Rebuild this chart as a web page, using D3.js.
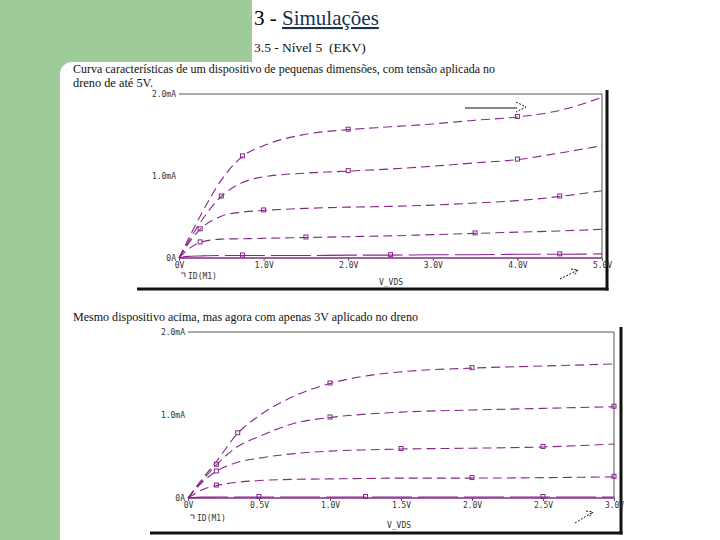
<!DOCTYPE html>
<html><head><meta charset="utf-8">
<script src="https://cdn.jsdelivr.net/npm/d3@7"></script>
<style>body{margin:0;background:#fff}svg{display:block}</style>
</head><body>
<script>
// ---------- data ----------
const titleMain = "3 - ";
const titleLink = "Simulações";
const subTitle = "3.5 - Nível 5  (EKV)";
const caption1a = "Curva características de um dispositivo de pequenas dimensões, com tensão aplicada no";
const caption1b = "dreno de até 5V.";
const caption2 = "Mesmo dispositivo acima, mas agora com apenas 3V aplicado no dreno";

// Chart A (VDS up to 5 V)
const vdsA = [0, 0.1, 0.25, 0.5, 0.75, 1.0, 1.5, 2.0, 2.5, 3.0, 3.5, 4.0, 4.5, 5.0];
const idA1 = [0, 0.21, 0.51, 0.95, 1.24, 1.37, 1.51, 1.565, 1.60, 1.635, 1.68, 1.72, 1.80, 1.96];
const idA2 = [0, 0.18, 0.43, 0.75, 0.92, 0.99, 1.035, 1.06, 1.085, 1.12, 1.16, 1.20, 1.28, 1.37];
const idA3 = [0, 0.16, 0.35, 0.51, 0.56, 0.58, 0.605, 0.62, 0.63, 0.645, 0.67, 0.70, 0.75, 0.82];
const idA4 = [0, 0.10, 0.19, 0.23, 0.235, 0.24, 0.25, 0.26, 0.27, 0.285, 0.30, 0.315, 0.33, 0.35];
const idA5 = [0, 0.02, 0.025, 0.03, 0.03, 0.03, 0.03, 0.035, 0.035, 0.04, 0.04, 0.045, 0.045, 0.05];
const xTicksA = [0, 1, 2, 3, 4, 5];
const xTickLabelsA = ["0V", "1.0V", "2.0V", "3.0V", "4.0V", "5.0V"];
const markersA = [[4, 7, 11], [3, 7, 11], [2, 5, 12], [2, 6, 10], [4, 8, 12]];

// Chart B (VDS up to 3 V)
const vdsB = [0, 0.1, 0.2, 0.35, 0.5, 0.75, 1.0, 1.25, 1.5, 2.0, 2.5, 3.0];
const idB1 = [0, 0.23, 0.44, 0.78, 0.99, 1.23, 1.38, 1.47, 1.52, 1.565, 1.59, 1.615];
const idB2 = [0, 0.21, 0.40, 0.62, 0.74, 0.90, 0.97, 1.01, 1.035, 1.06, 1.08, 1.10];
const idB3 = [0, 0.19, 0.32, 0.43, 0.48, 0.535, 0.565, 0.58, 0.59, 0.60, 0.615, 0.65];
const idB4 = [0, 0.10, 0.15, 0.19, 0.21, 0.225, 0.23, 0.235, 0.24, 0.24, 0.245, 0.255];
const idB5 = [0, 0.01, 0.012, 0.012, 0.012, 0.012, 0.012, 0.012, 0.012, 0.012, 0.012, 0.012];
const xTicksB = [0, 0.5, 1.0, 1.5, 2.0, 2.5, 3.0];
const xTickLabelsB = ["0V", "0.5V", "1.0V", "1.5V", "2.0V", "2.5V", "3.0V"];
const markersB = [[3, 6, 9], [2, 6, 11], [2, 8, 10], [2, 9, 11], [4, 7, 10]];

const yTicks = [0, 1, 2];
const yTickLabels = ["0A", "1.0mA", "2.0mA"];
const legendLabel = "ID(M1)";
const xAxisTitle = "V_VDS";

// ---------- drawing ----------
const W = 720, H = 540;
const svg = d3.select("body").append("svg").attr("width", W).attr("height", H);
const green = "#9dcb99";
const purple = "#84288a";
const labelFont = "'DejaVu Sans Mono', monospace";
const serifFont = "'Liberation Serif', 'Times New Roman', 'DejaVu Serif', serif";

// green decoration
svg.append("rect").attr("x", 0).attr("y", 0).attr("width", 252).attr("height", 62).attr("fill", green);
svg.append("rect").attr("x", 0).attr("y", 0).attr("width", 60).attr("height", H).attr("fill", green);
svg.append("rect").attr("x", 60).attr("y", 62).attr("width", 12).attr("height", 12).attr("fill", green);
svg.append("circle").attr("cx", 72).attr("cy", 74).attr("r", 12).attr("fill", "#fff");

// titles
const t = svg.append("text").attr("x", 254).attr("y", 25)
  .style("font-family", serifFont).style("font-size", "21px");
t.append("tspan").text(titleMain).attr("fill", "#000");
t.append("tspan").text(titleLink).attr("fill", "#17324f").attr("text-decoration", "underline");
svg.append("text").attr("x", 254).attr("y", 52)
  .style("font-family", serifFont).style("font-size", "13.5px").attr("fill", "#111")
  .style("white-space", "pre").text(subTitle);

function caption(txt, x, y, len) {
  svg.append("text").attr("x", x).attr("y", y)
    .style("font-family", serifFont).style("font-size", "12.5px").attr("fill", "#111")
    .attr("textLength", len).attr("lengthAdjust", "spacingAndGlyphs").text(txt);
}
caption(caption1a, 73, 73, 422);
caption(caption1b, 73, 87, 80);
caption(caption2, 73, 321, 345);

function drawChart(cfg) {
  const g = svg.append("g");
  const x = d3.scaleLinear().domain([0, cfg.xmax]).range([cfg.x0, cfg.x1]);
  const y = d3.scaleLinear().domain([0, 2]).range([cfg.y0, cfg.y1]);

  // outer black frame (right + bottom)
  g.append("line").attr("x1", cfg.boxR).attr("x2", cfg.boxR).attr("y1", cfg.boxT).attr("y2", cfg.boxB + 1.5)
    .attr("stroke", "#111").attr("stroke-width", 3);
  g.append("line").attr("x1", cfg.boxL).attr("x2", cfg.boxR + 1.5).attr("y1", cfg.boxB).attr("y2", cfg.boxB)
    .attr("stroke", "#111").attr("stroke-width", 3);

  // plot frame (top + right)
  g.append("line").attr("x1", cfg.x0).attr("x2", cfg.x1).attr("y1", y(2)).attr("y2", y(2))
    .attr("stroke", "#555").attr("stroke-width", 1);
  g.append("line").attr("x1", cfg.x1).attr("x2", cfg.x1).attr("y1", y(2)).attr("y2", y(0))
    .attr("stroke", "#555").attr("stroke-width", 1);

  // x axis
  const xAxis = d3.axisBottom(x).tickValues(cfg.xticks).tickSize(3)
    .tickFormat((d, i) => cfg.xlabels[i]);
  const ax = g.append("g").attr("transform", `translate(0,${cfg.y0})`).call(xAxis);
  ax.select(".domain").remove();
  ax.selectAll(".tick line").attr("stroke", "#555");
  ax.selectAll(".tick text").attr("font-family", labelFont).attr("font-size", 8).attr("fill", "#333").attr("dy", "0.55em");
  g.append("line").attr("x1", cfg.x0).attr("x2", cfg.x1).attr("y1", cfg.y0).attr("y2", cfg.y0)
    .attr("stroke", purple).attr("stroke-width", 1.6);

  // y axis labels
  const yAxis = d3.axisLeft(y).tickValues(yTicks).tickSize(0).tickPadding(3)
    .tickFormat((d, i) => yTickLabels[i]);
  const ay = g.append("g").attr("transform", `translate(${cfg.x0},0)`).call(yAxis);
  ay.select(".domain").remove();
  ay.selectAll(".tick text").attr("font-family", labelFont).attr("font-size", 8).attr("fill", "#333");

  // curves
  const line = d3.line().x((d, i) => x(cfg.vds[i])).y(d => y(d)).curve(d3.curveMonotoneX);
  cfg.series.forEach((s, k) => {
    g.append("path").attr("d", line(s)).attr("fill", "none").attr("stroke", purple)
      .attr("stroke-width", 1.1).attr("stroke-dasharray", k === 4 ? "40,6" : "9,5");
    cfg.markers[k].forEach(idx => {
      g.append("rect").attr("x", x(cfg.vds[idx]) - 2).attr("y", y(s[idx]) - 2.5)
        .attr("width", 4).attr("height", 4).attr("fill", "none").attr("stroke", purple).attr("stroke-width", 1);
    });
  });

  // legend
  g.append("path").attr("d", `M${cfg.x0 + 2},${cfg.legY - 3} h4 v4`).attr("fill", "none")
    .attr("stroke", purple).attr("stroke-width", 1);
  g.append("text").attr("x", cfg.x0 + 9).attr("y", cfg.legY + 3).attr("font-family", labelFont)
    .attr("font-size", 8).attr("fill", "#333").text(legendLabel);
  g.append("text").attr("x", cfg.xTitleX).attr("y", cfg.xTitleY).attr("text-anchor", "middle")
    .attr("font-family", labelFont).attr("font-size", 8).attr("fill", "#333").text(xAxisTitle);

  // dotted arrow near the x-axis end
  const a = cfg.arrow;
  g.append("line").attr("x1", a[0]).attr("y1", a[1]).attr("x2", a[2]).attr("y2", a[3])
    .attr("stroke", "#111").attr("stroke-width", 1).attr("stroke-dasharray", "2,1.5");
  g.append("path").attr("d", `M${a[2] - 7},${a[3] - 1} L${a[2]},${a[3]} L${a[2] - 4},${a[3] + 5}`)
    .attr("fill", "none").attr("stroke", "#111").attr("stroke-width", 1).attr("stroke-dasharray", "2,1.5");
  return g;
}

const gA = drawChart({
  xmax: 5, x0: 179, x1: 602, y0: 258, y1: 94,
  vds: vdsA, series: [idA1, idA2, idA3, idA4, idA5], markers: markersA,
  xticks: xTicksA, xlabels: xTickLabelsA,
  boxL: 137, boxR: 607, boxT: 90, boxB: 289,
  legY: 276, xTitleX: 391, xTitleY: 285,
  arrow: [560, 279, 578, 270]
});
// solid arrow pointing at the top curve
gA.append("line").attr("x1", 465).attr("x2", 517).attr("y1", 108).attr("y2", 108).attr("stroke", "#111").attr("stroke-width", 1);
gA.append("path").attr("d", "M516,102 L526,107 L516,112").attr("fill", "none").attr("stroke", "#111")
  .attr("stroke-width", 1).attr("stroke-dasharray", "2,1.5");

drawChart({
  xmax: 3, x0: 188, x1: 614, y0: 498, y1: 332,
  vds: vdsB, series: [idB1, idB2, idB3, idB4, idB5], markers: markersB,
  xticks: xTicksB, xlabels: xTickLabelsB,
  boxL: 150, boxR: 621, boxT: 327, boxB: 533,
  legY: 518, xTitleX: 399, xTitleY: 528,
  arrow: [575, 523, 593, 512]
});
</script>
</body></html>
